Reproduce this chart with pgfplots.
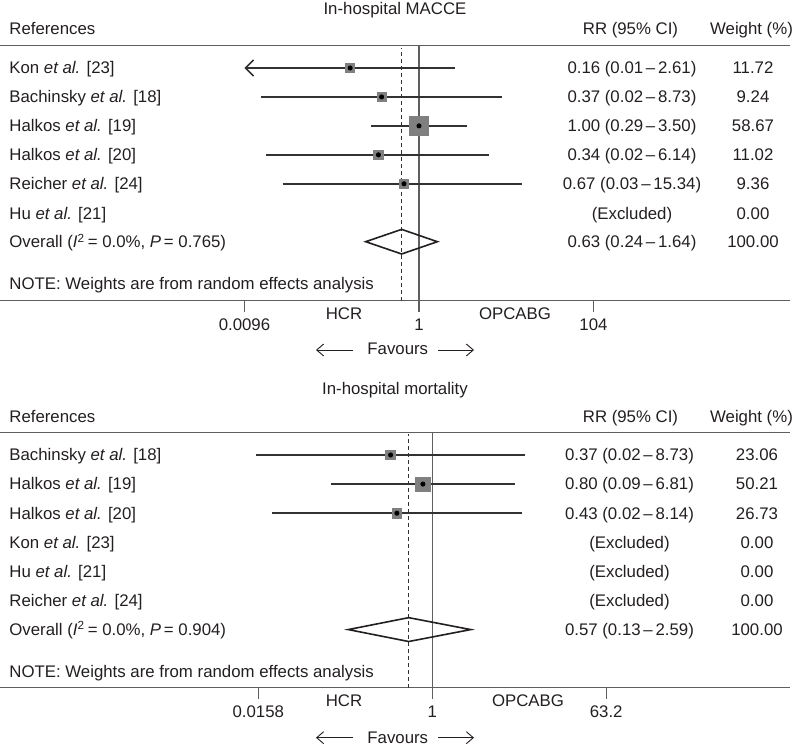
\documentclass[border=0pt]{standalone}
\usepackage{fontspec}
\setmainfont{Liberation Sans}
\usepackage{pgfplots}
\pgfplotsset{compat=1.18}
\usetikzlibrary{arrows.meta}
\definecolor{txt}{RGB}{35,31,32}
\definecolor{ci}{RGB}{50,50,50}
\definecolor{sq}{RGB}{128,128,128}
\definecolor{ax}{RGB}{95,95,95}
\newcommand{\fnt}{\fontsize{8.4pt}{10pt}\selectfont}
\tikzset{lbl/.style={font=\fnt, text=txt, inner sep=0pt},
  cil/.style={ci, line width=0.75pt}}
\begin{document}
\begin{tikzpicture}
\path[use as bounding box] (0,0) rectangle (400pt,-374pt);
% ---------------- Panel 1: In-hospital MACCE ----------------
\begin{axis}[xmode=log, scale only axis, width=395.25pt, height=127.5pt,
  at={(0,-150.35pt)}, anchor=south west,
  axis line style={draw=none}, ytick=\empty,
  xtick pos=left, tick align=outside, major tick length=5.5pt,
  tick style={ax, line width=0.6pt},
  xticklabel style={font=\fnt, text=txt, anchor=base, yshift=-9.65pt},
  clip=false,
  xmin=1.432e-5, xmax=1.972e4, ymin=-1.038, ymax=7.77,
  xtick={0.0096,1,104}, xticklabels={\mbox{0.0096},\mbox{1},\mbox{104}}]
\draw[ax, line width=0.7pt] (rel axis cs:0,1) -- (rel axis cs:1,1);
\draw[ax, line width=0.7pt] (rel axis cs:0,0) -- (rel axis cs:1,0);
\addplot[ax, line width=0.55pt] coordinates {(1,-1.038) (1,7.77)};
\addplot[ci, line width=0.6pt, dash pattern=on 2pt off 1.5pt] coordinates {(0.63,-1.038) (0.63,7.70)};
% confidence intervals
\addplot[cil, -{Straight Barb[length=4pt,width=8pt]}] coordinates {(2.61,7) (0.0096,7)};
\addplot[cil] coordinates {(0.0151,6) (9.1,6)};
\addplot[cil] coordinates {(0.277,5) (3.59,5)};
\addplot[cil] coordinates {(0.017,4) (6.45,4)};
\addplot[cil] coordinates {(0.0266,3) (15.5,3)};
% weight squares
\addplot[only marks, mark=square*, mark size=2.3pt, sq] coordinates {(0.16,7)};
\addplot[only marks, mark=square*, mark size=2.2pt, sq] coordinates {(0.37,6)};
\addplot[only marks, mark=square*, mark size=4.8pt, sq] coordinates {(1.00,5)};
\addplot[only marks, mark=square*, mark size=2.3pt, sq] coordinates {(0.34,4)};
\addplot[only marks, mark=square*, mark size=2.15pt, sq] coordinates {(0.67,3)};
\addplot[only marks, mark=*, mark size=1.05pt, black] coordinates {(0.16,7) (0.37,6) (1.00,5) (0.34,4) (0.67,3)};
% overall diamond
\addplot[txt, line width=0.8pt, line join=miter] coordinates {(0.242,1) (0.63,1.425) (1.63,1) (0.63,0.575)} -- cycle;
\end{axis}
% ---------------- Panel 2: In-hospital mortality ----------------
\begin{axis}[xmode=log, scale only axis, width=395.25pt, height=127.7pt,
  at={(0,-343.85pt)}, anchor=south west,
  axis line style={draw=none}, ytick=\empty,
  xtick pos=left, tick align=outside, major tick length=5.5pt,
  tick style={ax, line width=0.6pt},
  xticklabel style={font=\fnt, text=txt, anchor=base, yshift=-9.65pt},
  clip=false,
  xmin=3.35e-5, xmax=5105, ymin=-0.997, ymax=7.78,
  xtick={0.0158,1,63.2}, xticklabels={\mbox{0.0158},\mbox{1},\mbox{63.2}}]
\draw[ax, line width=0.7pt] (rel axis cs:0,1) -- (rel axis cs:1,1);
\draw[ax, line width=0.7pt] (rel axis cs:0,0) -- (rel axis cs:1,0);
\addplot[ax, line width=0.55pt] coordinates {(1,-0.997) (1,7.78)};
\addplot[ci, line width=0.6pt, dash pattern=on 2pt off 1.5pt] coordinates {(0.57,-0.997) (0.57,7.71)};
\addplot[cil] coordinates {(0.015,7) (9.15,7)};
\addplot[cil] coordinates {(0.0888,6) (7.2,6)};
\addplot[cil] coordinates {(0.022,5) (8.55,5)};
\addplot[only marks, mark=square*, mark size=2.4pt, sq] coordinates {(0.37,7)};
\addplot[only marks, mark=square*, mark size=3.55pt, sq] coordinates {(0.80,6)};
\addplot[only marks, mark=square*, mark size=2.4pt, sq] coordinates {(0.43,5)};
\addplot[only marks, mark=*, mark size=1.05pt, black] coordinates {(0.37,7) (0.80,6) (0.43,5)};
\addplot[txt, line width=0.8pt, line join=miter] coordinates {(0.135,1) (0.57,1.41) (2.50,1) (0.57,0.59)} -- cycle;
\end{axis}
% ---------------- Text (pixel coordinates) ----------------
\begin{scope}[x=0.5pt, y=-0.5pt]
% panel 1
\node[lbl, anchor=base] at (395,14.5) {In-hospital MACCE};
\node[lbl, anchor=base west] at (9,34.3) {References};
\node[lbl, anchor=base] at (630.5,34.3) {RR (95\% CI)};
\node[lbl, anchor=base] at (751.5,34.3) {Weight (\%)};
\foreach \y/\name/\rr/\w in {
  74/{Kon \textit{et al.} [23]}/{0.16 (0.01\,–\,2.61)}/11.72,
  103/{Bachinsky \textit{et al.} [18]}/{0.37 (0.02\,–\,8.73)}/9.24,
  132/{Halkos \textit{et al.} [19]}/{1.00 (0.29\,–\,3.50)}/58.67,
  161/{Halkos \textit{et al.} [20]}/{0.34 (0.02\,–\,6.14)}/11.02,
  190/{Reicher \textit{et al.} [24]}/{0.67 (0.03\,–\,15.34)}/9.36,
  219.3/{Hu \textit{et al.} [21]}/{(Excluded)}/0.00,
  247.7/{Overall (\textit{I}\textsuperscript{2}\,= 0.0\%, \textit{P}\,= 0.765)}/{0.63 (0.24\,–\,1.64)}/100.00}{
  \node[lbl, anchor=base west] at (9,\y) {\name};
  \node[lbl, anchor=base] at (632,\y) {\rr};
  \node[lbl, anchor=base] at (753,\y) {\w};
}
\node[lbl, anchor=base west] at (9,289.5) {NOTE: Weights are from random effects analysis};
\node[lbl, anchor=base] at (344,319.3) {HCR};
\node[lbl, anchor=base] at (515,319.3) {OPCABG};
\node[lbl, anchor=base] at (397.8,355) {Favours};
\draw[txt, line width=0.45pt, -{Straight Barb[length=3.5pt,width=6pt]}] (353,350) -- (316,350);
\draw[txt, line width=0.45pt, -{Straight Barb[length=3.5pt,width=6pt]}] (438,350) -- (474,350);
% panel 2
\node[lbl, anchor=base] at (395,395) {In-hospital mortality};
\node[lbl, anchor=base west] at (9,422.7) {References};
\node[lbl, anchor=base] at (630.5,422.7) {RR (95\% CI)};
\node[lbl, anchor=base] at (751.5,422.7) {Weight (\%)};
\foreach \y/\name/\rr/\w in {
  461/{Bachinsky \textit{et al.} [18]}/{0.37 (0.02\,–\,8.73)}/23.06,
  490/{Halkos \textit{et al.} [19]}/{0.80 (0.09\,–\,6.81)}/50.21,
  519.3/{Halkos \textit{et al.} [20]}/{0.43 (0.02\,–\,8.14)}/26.73,
  548.5/{Kon \textit{et al.} [23]}/{(Excluded)}/0.00,
  577.7/{Hu \textit{et al.} [21]}/{(Excluded)}/0.00,
  606.7/{Reicher \textit{et al.} [24]}/{(Excluded)}/0.00,
  635.5/{Overall (\textit{I}\textsuperscript{2}\,= 0.0\%, \textit{P}\,= 0.904)}/{0.57 (0.13\,–\,2.59)}/100.00}{
  \node[lbl, anchor=base west] at (9,\y) {\name};
  \node[lbl, anchor=base] at (629.5,\y) {\rr};
  \node[lbl, anchor=base] at (757,\y) {\w};
}
\node[lbl, anchor=base west] at (9,677.5) {NOTE: Weights are from random effects analysis};
\node[lbl, anchor=base] at (344,706.7) {HCR};
\node[lbl, anchor=base] at (528,706.7) {OPCABG};
\node[lbl, anchor=base] at (397.8,743.3) {Favours};
\draw[txt, line width=0.45pt, -{Straight Barb[length=3.5pt,width=6pt]}] (353,737.7) -- (316,737.7);
\draw[txt, line width=0.45pt, -{Straight Barb[length=3.5pt,width=6pt]}] (438,737.7) -- (474,737.7);
\end{scope}
\end{tikzpicture}
\end{document}
